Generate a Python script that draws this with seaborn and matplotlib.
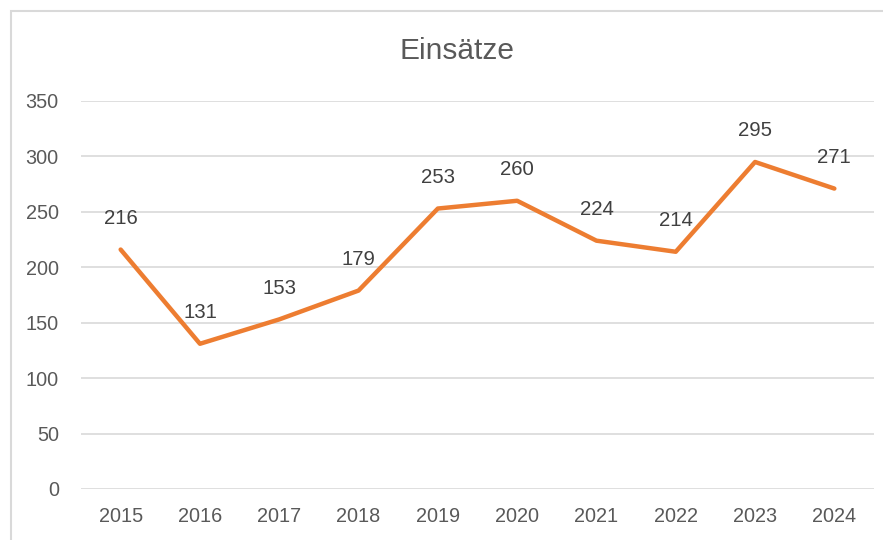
import matplotlib.pyplot as plt
import matplotlib.patches as mpatches
import seaborn as sns

years = ['2015', '2016', '2017', '2018', '2019', '2020', '2021', '2022', '2023', '2024']
einsaetze = [216, 131, 153, 179, 253, 260, 224, 214, 295, 271]

sns.set_style('white')
plt.rcParams['font.family'] = ['Liberation Sans', 'DejaVu Sans']

fig = plt.figure(figsize=(8.83, 5.4), dpi=100)
ax = fig.add_axes([81 / 883, 1 - 489 / 540, (874 - 81) / 883, (489 - 101) / 540])

# chart border (cut off at right and bottom like the screenshot)
fig.patches.append(mpatches.Rectangle((11 / 883, -0.1), 1.2, 1.1 - 11 / 540,
                                      transform=fig.transFigure, fill=False,
                                      edgecolor='#d9d9d9', linewidth=1.5))

sns.lineplot(x=years, y=einsaetze, ax=ax, color='#ED7D31', linewidth=3.2, sort=False)

for i, v in enumerate(einsaetze):
    ax.annotate(str(v), (i, v), xytext=(0, 22.5), textcoords='offset points',
                ha='center', va='center', fontsize=14.7, color='#404040')

ax.set_ylim(0, 350)
ax.set_xlim(-0.5, len(years) - 0.5)
ax.set_yticks(range(0, 351, 50))
ax.yaxis.grid(True, color='#d9d9d9', linewidth=1.2)
ax.xaxis.grid(False)
ax.set_axisbelow(True)
for s in ax.spines.values():
    s.set_visible(False)
ax.tick_params(axis='both', length=0, labelsize=14.3, labelcolor='#595959')
ax.tick_params(axis='y', pad=16)
ax.tick_params(axis='x', pad=13)
ax.set_xlabel('')
ax.set_ylabel('')

fig.text(457 / 883, 1 - 51 / 540, 'Einsätze', ha='center', va='center',
         fontsize=21.5, color='#595959')

fig.savefig('out.png', dpi=100)
